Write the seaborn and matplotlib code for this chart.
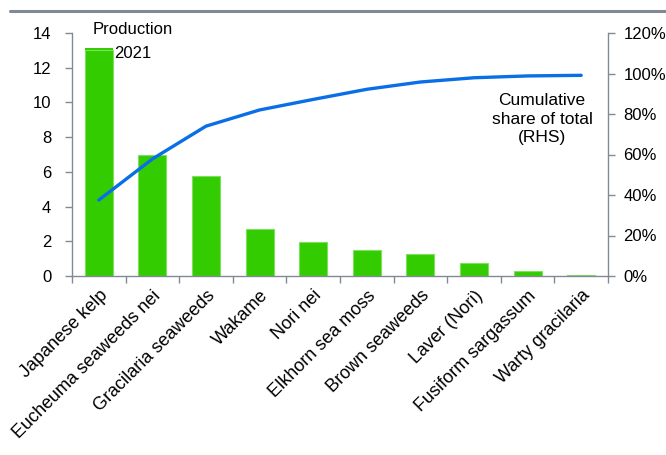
import numpy as np
import pandas as pd
import matplotlib
matplotlib.use("Agg")
import matplotlib.pyplot as plt
import matplotlib.transforms as mtransforms
import seaborn as sns
from matplotlib.lines import Line2D
from matplotlib.patches import Patch

# Seaweed species, production in 2021 (million tonnes) and cumulative share
species = ["Japanese kelp", "Eucheuma seaweeds nei", "Gracilaria seaweeds",
           "Wakame", "Nori nei", "Elkhorn sea moss", "Brown seaweeds",
           "Laver (Nori)", "Fusiform sargassum", "Warty gracilaria"]
production_2021 = [13.0, 7.0, 5.75, 2.7, 1.95, 1.48, 1.27, 0.73, 0.29, 0.08]
cumulative_share = [37.5, 57.8, 74.0, 82.0, 87.2, 92.2, 95.8, 97.9, 98.8, 99.1]

left_ticks = [0, 2, 4, 6, 8, 10, 12, 14]
right_ticks = [0, 20, 40, 60, 80, 100, 120]

BAR_GREEN = "#33cc00"
LINE_BLUE = "#0a6fe6"
AXIS_GREY = "#808a94"

sns.set_theme(style="white")
plt.rcParams["font.family"] = ["Liberation Sans", "DejaVu Sans"]
plt.rcParams["text.color"] = "black"

df = pd.DataFrame({"species": species, "production": production_2021,
                   "pos": np.arange(len(species)), "cum": cumulative_share})

fig = plt.figure(figsize=(6.66, 4.55), dpi=100)
ax = fig.add_axes([72 / 666, 1 - 276 / 455, 536 / 666, 243 / 455])

sns.barplot(data=df, x="species", y="production", ax=ax, color=BAR_GREEN,
            saturation=1, width=0.52, edgecolor="#7fe060", linewidth=0.8,
            zorder=2)
ax.set_xlim(-0.5, len(species) - 0.5)
ax.set_ylim(0, 14)
ax.set_yticks(left_ticks)
ax.set_yticklabels([str(t) for t in left_ticks])
ax.set_xlabel("")
ax.set_ylabel("")

ax2 = ax.twinx()
sns.lineplot(data=df, x="pos", y="cum", ax=ax2, color=LINE_BLUE,
             linewidth=2.4, zorder=3)
ax2.set_ylim(0, 120)
ax2.set_yticks(right_ticks)
ax2.set_yticklabels([f"{t}%" for t in right_ticks])
ax2.set_xlabel("")
ax2.set_ylabel("")
ax2.set_xlim(-0.5, len(species) - 0.5)

for a in (ax, ax2):
    a.spines["top"].set_visible(False)
    for s in a.spines.values():
        s.set_color(AXIS_GREY)
        s.set_linewidth(1.0)
ax.spines["right"].set_visible(False)
ax2.spines["left"].set_visible(False)
ax2.spines["bottom"].set_visible(False)

# Category ticks sit between the bars; labels slant up to the right
ax.set_xticks(np.arange(len(species)))
ax.set_xticklabels(species, rotation=45, ha="right", rotation_mode="anchor",
                   fontsize=13, color="black")
shift = mtransforms.ScaledTranslation(10 / 100, -3 / 100, fig.dpi_scale_trans)
for lbl in ax.get_xticklabels():
    lbl.set_transform(lbl.get_transform() + shift)
ax.set_xticks(np.arange(len(species) + 1) - 0.5, minor=True)
ax.tick_params(axis="x", which="major", length=0, pad=8)
ax.tick_params(axis="x", which="minor", length=5, width=1, color=AXIS_GREY,
               direction="out", bottom=True)
ax.tick_params(axis="y", length=5, width=1, color=AXIS_GREY, direction="out",
               left=True, pad=10, labelsize=12, labelcolor="black")
ax2.tick_params(axis="y", length=5, width=1, color=AXIS_GREY, direction="out",
                right=True, pad=6, labelsize=12, labelcolor="black")

# Legend entry for the bars; its swatch lines up with the first bar
handle = Patch(facecolor=BAR_GREEN, edgecolor="none")
leg = ax.legend([handle], ["2021"], frameon=False, loc="center left",
                bbox_to_anchor=(13 / 536, (276 - 53.5) / 243), fontsize=12,
                handlelength=1.68, handleheight=0.3, handletextpad=0.05,
                borderpad=0, borderaxespad=0, labelcolor="black")
leg.set_zorder(1)
fig.text(93 / 666, 1 - 34.5 / 455, "Production", ha="left", va="baseline",
         fontsize=12, color="black")

ax2.text(542 / 666, 1 - 119 / 455, "Cumulative\nshare of total\n(RHS)",
         transform=fig.transFigure, ha="center", va="center", fontsize=12.5,
         linespacing=1.3, color="black")

# Rule across the top of the chart
fig.add_artist(Line2D([10 / 666, 1.0], [1 - 11 / 455, 1 - 11 / 455],
                      transform=fig.transFigure, color=AXIS_GREY,
                      linewidth=2.2))

fig.savefig("out.png", dpi=100)
